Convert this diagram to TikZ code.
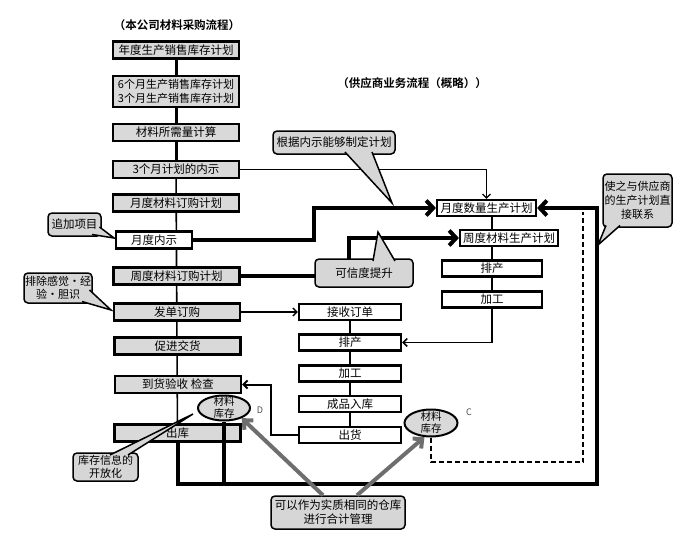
\documentclass[tikz,border=0pt]{standalone}
\usepackage{fontspec}
\setmainfont{Noto Sans CJK SC}[BoldFont={Noto Sans CJK SC Bold}]
\usetikzlibrary{arrows.meta,calc,backgrounds,shapes.geometric}
\definecolor{boxgray}{HTML}{D9D9D9}
\definecolor{cgray}{HTML}{D6D6D6}
\definecolor{arrgray}{HTML}{6E6E6E}
\newcommand\txtfont{\fontsize{11.5}{13}\selectfont}
\newcommand\calloutptr[3]{\fill[cgray] #1 -- #2 -- #3 -- cycle; \draw[line width=1.5pt, line join=miter] #1 -- #2 -- #3;}
\tikzset{
  lbox/.style={draw, line width=2.3pt, fill=boxgray, minimum width=126pt, minimum height=17pt, inner sep=0pt, align=center, font=\txtfont},
  wbox/.style={draw, line width=2.2pt, fill=white, minimum height=16pt, inner sep=0pt, align=center, font=\txtfont},
  cbox/.style={draw, line width=1.5pt, fill=cgray, rounded corners=4pt, inner sep=1pt, align=center, font=\txtfont},
  ellip/.style={draw, ellipse, line width=2pt, fill=boxgray, inner sep=0pt},
  etext/.style={align=center, inner sep=0pt, font=\fontsize{10.5}{12}\selectfont},
  lettr/.style={font=\fontsize{9}{10}\selectfont, text=black!70},
  ttl/.style={font=\fontsize{11.5}{13}\selectfont\bfseries},
  heavy/.style={line width=4pt, line join=miter},
  bigtip/.style={-{Straight Barb[length=7pt,width=15pt]}},
  smalltip/.style={-{Straight Barb[length=4pt,width=8pt]}},
  grayarr/.style={draw=arrgray, line width=4pt, -{Straight Barb[length=7pt,width=13pt]}},
}
\begin{document}
\begin{tikzpicture}[x=1pt,y=-1pt]
\useasboundingbox (0,0) rectangle (694,546);
% titles
\node[ttl] (t1) at (177,25) {（本公司材料采购流程）};
\node[ttl] (t2) at (412,83) {（供应商业务流程（概略））};
% left column
\node[lbox] (b1) at (176,50) {年度生产销售库存计划};
\node[lbox, minimum height=31pt, font=\fontsize{11}{14}\selectfont] (b2) at (176,91.5) {6个月生产销售库存计划\\3个月生产销售库存计划};
\node[lbox] (b3) at (176,132.5) {材料所需量计算};
\node[lbox] (b4) at (176,169.5) {3个月计划的内示};
\node[lbox] (b5) at (176,203) {月度材料订购计划};
\node[lbox, fill=white, minimum width=76pt] (b6) at (154,240) {月度内示};
\node[lbox] (b7) at (176.5,276) {周度材料订购计划};
\node[lbox] (b8) at (177,312) {发单订购};
\node[lbox] (b9) at (177.5,346) {促进交货};
\node[lbox] (b10) at (178,384.5) {到货验收 检查};
\node[lbox] (b11) at (177.5,433) {出库};
% middle column
\node[wbox, minimum width=102pt] (s1) at (350,312) {接收订单};
\node[wbox, minimum width=102pt] (s2) at (350,342.5) {排产};
\node[wbox, minimum width=102pt] (s3) at (350,373.5) {加工};
\node[wbox, minimum width=102pt] (s4) at (350,404) {成品入库};
\node[wbox, minimum width=102pt] (s5) at (350,435) {出货};
% right column
\node[wbox, minimum width=99pt] (m1) at (486.5,208) {月度数量生产计划};
\node[wbox, minimum width=98pt] (m2) at (509,238) {周度材料生产计划};
\node[wbox, minimum width=100pt] (r3) at (492,268.5) {排产};
\node[wbox, minimum width=100pt] (r4) at (492,299.5) {加工};
% ellipses
\node[ellip, minimum width=52pt, minimum height=25pt] (e1) at (224,408) {};
\node[etext] at (e1.center) {材料\\库存};
\node[lettr] (dl) at (260,410) {D};
\node[ellip, minimum width=53pt, minimum height=27pt] (e2) at (431,423) {};
\node[etext] at (e2.center) {材料\\库存};
\node[lettr] (cl) at (469,412) {C};
% helper coordinates
\path (m1.west) ++(-122,0) coordinate (k1);
\path (m2.west) ++(-110,0) coordinate (k2);
\path (b10.east) ++(29,0) coordinate (k3);
\coordinate (lb) at (597,484);
\coordinate (dc) at (583,462);
\coordinate (dt) at (583,212);
% connectors behind boxes
\begin{pgfonlayer}{background}
\draw[line width=3pt] (b1.center) -- (b4.center);
\draw[line width=1.6pt] (b4.center) -- (b11.center);
\draw[line width=2pt] (s1.center) -- (s5.center);
\draw[line width=1.6pt] (m1.south -| r3.center) -- (r4.center);
\draw[line width=1.2pt, smalltip] (b4.east) -| (m1.north);
\draw[heavy, bigtip] (b6.east) -| (k1) -- (m1.west);
\draw[heavy, bigtip] (b7.east) -| (k2) -- (m2.west);
\draw[line width=1.4pt, smalltip] (b8.east) -- (s1.west);
\draw[line width=1.6pt, smalltip] (r4.south) |- (s2.east);
\draw[line width=2pt, smalltip] (s5.west) -| (k3) -- (b10.east);
\end{pgfonlayer}
% loop and dashed
\draw[heavy] (e1.south) -- (e1.south |- lb);
\draw[heavy, bigtip] (b11.south) |- (lb) |- (m1.east);
\draw[line width=1.6pt, dash pattern=on 5pt off 3pt] (e2.south) |- (dc) -- (dt);
% callouts
\node[cbox, minimum width=122pt, minimum height=23pt] (c1) at (334,142.5) {根据内示能够制定计划};
\calloutptr{(345,152)}{(392,203)}{(372,152)}
\node[cbox, minimum width=98pt, minimum height=28pt] (c2) at (364,273) {可信度提升};
\calloutptr{(373,261)}{(378,232)}{(395,261)}
\node[cbox, minimum width=53pt, minimum height=23pt] (c3) at (74.5,224.5) {追加项目};
\calloutptr{(99.5,227)}{(114,238)}{(92,234.5)}
\node[cbox, minimum width=66pt, minimum height=30pt, font=\fontsize{11}{13}\selectfont] (c4) at (58,288) {排除感觉·经\\验·胆识};
\calloutptr{(89.5,290)}{(111,310)}{(82,301.5)}
\node[cbox, minimum width=65pt, minimum height=28pt, font=\fontsize{11}{13}\selectfont] (c5) at (105.5,467) {库存信息的\\开放化};
\calloutptr{(110,455)}{(193,414)}{(128,455)}
\node[cbox, minimum width=69pt, minimum height=53pt, font=\fontsize{11}{14}\selectfont] (c6) at (637.5,200.5) {使之与供应商\\的生产计划直\\接联系};
\calloutptr{(606,225.5)}{(598,245)}{(620,225.5)}
\node[cbox, minimum width=134pt, minimum height=33pt, font=\fontsize{11.5}{14}\selectfont] (c7) at (338,512.5) {可以作为实质相同的仓库\\进行合计管理};
\draw[grayarr] ($(c7.north)+(-15,0)$) -- (e1.-30);
\draw[grayarr] ($(c7.north)+(19,0)$) -- (e2.-115);
\end{tikzpicture}
\end{document}
